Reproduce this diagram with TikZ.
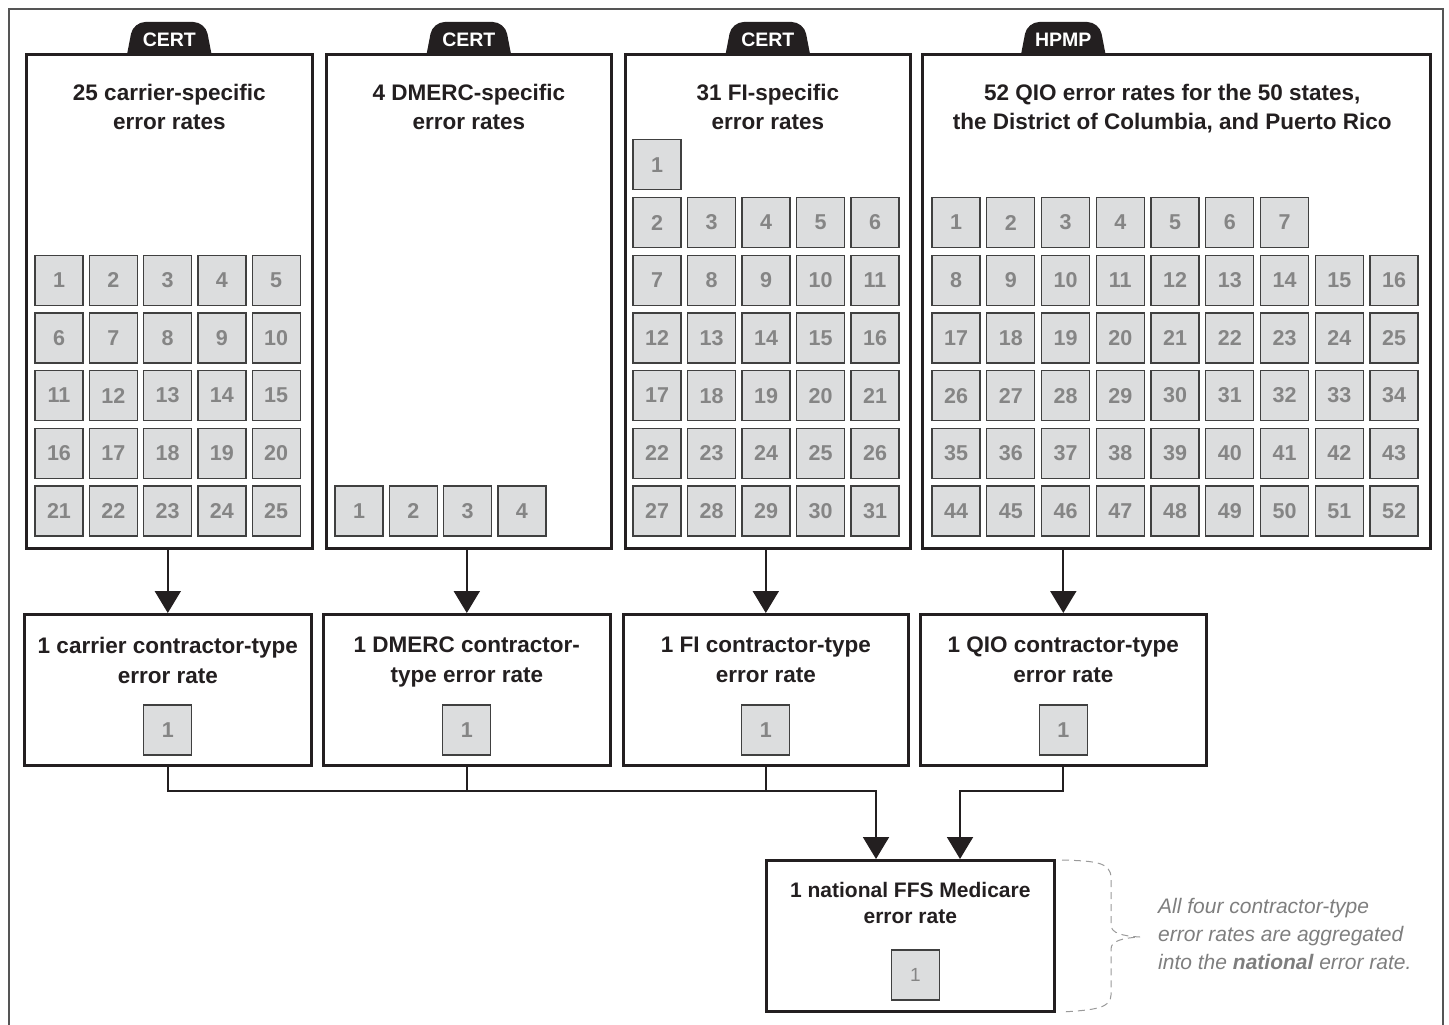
\documentclass[tikz,border=0pt]{standalone}
\usepackage{fontspec}
\setmainfont{Liberation Sans}
\usetikzlibrary{arrows.meta,positioning}

\definecolor{boxc}{HTML}{231F20}
\definecolor{sqfill}{HTML}{DCDDDE}
\definecolor{sqline}{HTML}{404040}
\definecolor{numc}{HTML}{858585}
\definecolor{framec}{HTML}{555555}
\definecolor{notec}{HTML}{7E7E7E}
\definecolor{bracec}{HTML}{9A9A9A}

\begin{document}
\begin{tikzpicture}[
        x=1pt, y=-1pt,
        frame line/.style={draw=framec, line width=1.4pt},
        big box/.style={draw=boxc, line width=2.6pt, fill=white, inner sep=0pt, anchor=north west},
        rate/.style={draw=sqline, fill=sqfill, line width=1.3pt, minimum width=48pt, minimum height=50pt,
            inner sep=0pt, text=numc, font=\fontsize{21.5}{21.5}\selectfont\bfseries},
        title/.style={text=boxc, align=center, inner sep=0pt, font=\fontsize{22.5}{29}\selectfont\bfseries},
        mid title/.style={text=boxc, align=center, inner sep=0pt, font=\fontsize{22.5}{30}\selectfont\bfseries},
        flow/.style={draw=boxc, line width=2pt, -{Triangle[width=26pt,length=22pt]}},
        link/.style={draw=boxc, line width=2pt},
        brace line/.style={draw=bracec, line width=1pt, dash pattern=on 7pt off 5pt},
        note/.style={text=notec, align=left, inner sep=0pt, anchor=north west,
            font=\fontsize{21}{28}\selectfont\itshape},
        tab shape/.pic={
            \fill[boxc, rounded corners=12pt] (-42,0) -- (-36,-31) -- (36,-31) -- (42,0);
            \node[text=white, inner sep=0pt, font=\fontsize{19.5}{19.5}\selectfont\bfseries] at (0,-13) {#1};
        }
    ]
    \useasboundingbox (0,0) rectangle (1449,1025);
    \draw[frame line] (9,1040) -- (9,9) -- (1443,9) -- (1443,1040);

    % contractor-specific boxes
    \node[big box, minimum width=286pt, minimum height=494pt] (carrier) at (25,53) {};
    \node[big box, minimum width=285pt, minimum height=494pt] (dmerc) at (325,53) {};
    \node[big box, minimum width=285pt, minimum height=494pt] (fi) at (624,53) {};
    \node[big box, minimum width=508pt, minimum height=494pt] (qio) at (921,53) {};

    % contractor-type boxes
    \node[big box, minimum width=287pt, minimum height=151pt] (mcarrier) at (23,613) {};
    \node[big box, minimum width=287pt, minimum height=151pt] (mdmerc) at (322,613) {};
    \node[big box, minimum width=285pt, minimum height=151pt] (mfi) at (622,613) {};
    \node[big box, minimum width=286pt, minimum height=151pt] (mqio) at (919,613) {};

    \node[big box, minimum width=288pt, minimum height=151pt] (national) at (765,859) {};

    \pic at (carrier.north) {tab shape=CERT};
    \pic at (dmerc.north) {tab shape=CERT};
    \pic at (fi.north) {tab shape=CERT};
    \pic at (qio.north -| mqio.north) {tab shape=HPMP};

    \node[title, below=31pt of carrier.north] (tcarrier) {25 carrier-specific\\error rates};
    \node[title, below=31pt of dmerc.north] (tdmerc) {4 DMERC-specific\\error rates};
    \node[title, below=31pt of fi.north] (tfi) {31 FI-specific\\error rates};
    \node[title, below=31pt of qio.north, xshift=-4pt] (tqio) {52 QIO error rates for the 50 states,\\the District of Columbia, and Puerto Rico};

    \foreach \n in {1,...,25}{
        \pgfmathsetmacro\cx{59+54.3*mod(\n-1,5)}
        \pgfmathsetmacro\cy{280.2+57.7*floor((\n-1)/5)}
        \node[rate] (c\n) at (\cx,\cy) {\n};
    }
    \foreach \n in {1,...,4}{
        \pgfmathsetmacro\cx{359+54.3*(\n-1)}
        \node[rate] (d\n) at (\cx,511) {\n};
    }
    \node[rate] (f1) at (657,164.8) {1};
    \foreach \n in {2,...,31}{
        \pgfmathsetmacro\cx{657+54.5*mod(\n-2,5)}
        \pgfmathsetmacro\cy{222.5+57.7*floor((\n-2)/5)}
        \node[rate] (f\n) at (\cx,\cy) {\n};
    }
    \foreach \n in {1,...,7}{
        \pgfmathsetmacro\cx{956+54.75*(\n-1)}
        \node[rate] (q\n) at (\cx,222.5) {\n};
    }
    \foreach \n in {8,...,52}{
        \pgfmathsetmacro\cx{956+54.75*mod(\n-8,9)}
        \pgfmathsetmacro\cy{280.2+57.7*floor((\n-8)/9)}
        \node[rate] (q\n) at (\cx,\cy) {\n};
    }

    \node[mid title, below=24pt of mcarrier.north] (tmcarrier) {1 carrier contractor-type\\error rate};
    \node[mid title, below=24pt of mdmerc.north] (tmdmerc) {1 DMERC contractor-\\type error rate};
    \node[mid title, below=24pt of mfi.north] (tmfi) {1 FI contractor-type\\error rate};
    \node[mid title, below=24pt of mqio.north] (tmqio) {1 QIO contractor-type\\error rate};
    \node[rate, above=11pt of mcarrier.south] (mc1) {1};
    \node[rate, above=11pt of mdmerc.south] (md1) {1};
    \node[rate, above=11pt of mfi.south] (mf1) {1};
    \node[rate, above=11pt of mqio.south] (mq1) {1};

    \node[title, below=23pt of national.north, font=\fontsize{21}{26}\selectfont\bfseries] (tnational) {1 national FFS Medicare\\error rate};
    \node[rate, above=12pt of national.south, xshift=5pt, font=\fontsize{19}{19}\selectfont] (n1) {1};

    % arrows
    \draw[flow] (carrier.south -| mcarrier.north) -- (mcarrier.north);
    \draw[flow] (dmerc.south -| mdmerc.north) -- (mdmerc.north);
    \draw[flow] (fi.south -| mfi.north) -- (mfi.north);
    \draw[flow] (qio.south -| mqio.north) -- (mqio.north);

    \coordinate (j1) at (876,791);
    \coordinate (j2) at (960,791);
    \draw[flow] (mcarrier.south) |- (j1) -- (j1 |- national.north);
    \draw[link] (mdmerc.south) -- (mdmerc.south |- j1);
    \draw[link] (mfi.south) -- (mfi.south |- j1);
    \draw[flow] (mqio.south) |- (j2) -- (j2 |- national.north);

    \draw[brace line] (1062,860) .. controls (1095,861) and (1111,862) .. (1111,878) -- (1111,925)
        .. controls (1111,933) and (1122,936) .. (1140,937)
        .. controls (1122,938) and (1111,941) .. (1111,949) -- (1111,995)
        .. controls (1111,1008) and (1095,1010) .. (1062,1012);
    \node[note] (agg) at (1158,898) {All four contractor-type\\error rates are aggregated\\into the \textbf{national} error rate.};
\end{tikzpicture}
\end{document}
